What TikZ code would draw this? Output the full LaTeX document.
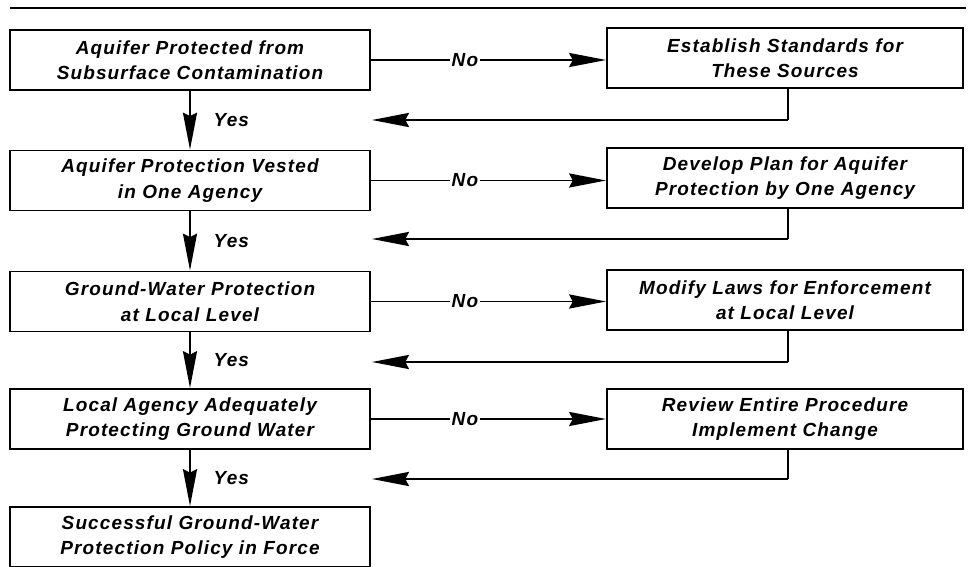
\documentclass[tikz,border=0pt]{standalone}
\usepackage{fontspec}
\newfontfamily\labfont[LetterSpace=6]{Liberation Sans}
\usetikzlibrary{arrows.meta,calc}
\begin{document}
\begin{tikzpicture}[x=0.02cm,y=-0.02cm,
  box/.style={draw,line width=1.1pt,inner sep=0pt,minimum width=7.2cm,minimum height=1.2cm,align=center,
    font=\labfont\bfseries\itshape\fontsize{10.8pt}{14.5pt}\selectfont},
  rbox/.style={box,minimum width=7.12cm},
  lbl/.style={font=\labfont\bfseries\itshape\fontsize{10.8pt}{14.5pt}\selectfont,inner sep=1pt,fill=white},
  conn/.style={line width=1.1pt},
  arr/.style={conn,-{Stealth[length=21pt,width=8pt,inset=2pt]}}]
\useasboundingbox (0,0) rectangle (969,567);
\draw[line width=1.1pt] (10,8) -- (966,8);
% left column
\node[box] (l1) at (190,60) {Aquifer Protected from\\Subsurface Contamination};
\node[box] (l2) at (190,180.5) {Aquifer Protection Vested\\in One Agency};
\node[box] (l3) at (190,301.5) {Ground-Water Protection\\at Local Level};
\node[box] (l4) at (190,419) {Local Agency Adequately\\Protecting Ground Water};
\node[box] (l5) at (190,537) {Successful Ground-Water\\Protection Policy in Force};
% right column
\node[rbox] (r1) at (785,58) {Establish Standards for\\These Sources};
\node[rbox] (r2) at (785,178) {Develop Plan for Aquifer\\Protection by One Agency};
\node[rbox] (r3) at (785,300) {Modify Laws for Enforcement\\at Local Level};
\node[rbox] (r4) at (785,419) {Review Entire Procedure\\Implement Change};
% coordinates
\coordinate (b1) at (788,120);
\coordinate (b2) at (788,239);
\coordinate (b3) at (788,362);
\coordinate (b4) at (788,479);
\coordinate (t1) at (372,120);
\coordinate (t2) at (372,239);
\coordinate (t3) at (372,362);
\coordinate (t4) at (372,479);
% yes arrows
\foreach \i/\j in {1/2,2/3,3/4,4/5}{
  \draw[arr] (l\i.south) -- (l\j.north) node[lbl,pos=0.5,anchor=west,xshift=0.42cm,fill=none] {Yes};
}
% no arrows
\foreach \i in {1,2,3,4}{
  \draw[arr] (l\i.east) -- (l\i.east -| r\i.west) ;
  \node[lbl] (no\i) at ($(l\i.east)+(94,0)$) {No};
}
% returns
\foreach \i in {1,2,3,4}{
  \draw[conn] (r\i.south -| b\i) -- (b\i);
  \draw[arr] (b\i) -- (t\i);
}
\end{tikzpicture}
\end{document}
